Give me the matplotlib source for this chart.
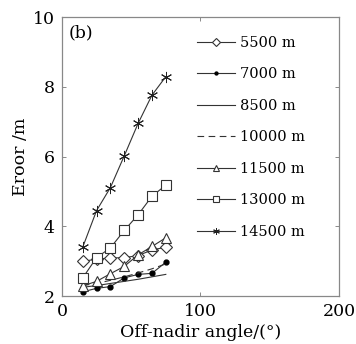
import numpy as np
import matplotlib
matplotlib.use('Agg')
import matplotlib.pyplot as plt

# off-nadir angle (deg) and error (m) for each flight height
angles = [15, 25, 35, 45, 55, 65, 75]
err_5500 = [2.99, 3.06, 3.09, 3.10, 3.16, 3.32, 3.40]
err_7000 = [2.12, 2.22, 2.27, 2.52, 2.62, 2.65, 2.97]
err_8500 = [2.25, 2.30, 2.36, 2.42, 2.48, 2.55, 2.62]
err_10000 = [2.30, 2.36, 2.45, 2.55, 2.66, 2.78, 2.92]
err_11500 = [2.29, 2.42, 2.64, 2.85, 3.18, 3.42, 3.67]
err_13000 = [2.52, 3.10, 3.38, 3.88, 4.33, 4.86, 5.18]
err_14500 = [3.40, 4.45, 5.11, 6.02, 6.95, 7.76, 8.29]
labels = ['5500 m', '7000 m', '8500 m', '10000 m', '11500 m', '13000 m', '14500 m']

plt.rcParams['font.family'] = ['DejaVu Serif']
plt.rcParams['mathtext.fontset'] = 'dejavuserif'

fig = plt.figure(figsize=(3.56, 3.44), dpi=100)
ax = fig.add_axes([0.174, 0.1395, 0.778, 0.811])

lc = '#333333'
lw = 0.8
ax.plot(angles, err_5500, color=lc, lw=lw, marker='D', ms=6.5, mfc='white', mec=lc, mew=0.8, label=labels[0])
ax.plot(angles, err_7000, color=lc, lw=lw, marker='o', ms=3.5, mfc='black', mec='black', label=labels[1])
ax.plot(angles, err_8500, color=lc, lw=lw, label=labels[2])
ax.plot(angles, err_10000, color=lc, lw=lw, ls=(0, (6, 4)), label=labels[3])
ax.plot(angles, err_11500, color=lc, lw=lw, marker='^', ms=7, mfc='white', mec=lc, mew=0.8, label=labels[4])
ax.plot(angles, err_13000, color=lc, lw=lw, marker='s', ms=6.5, mfc='white', mec=lc, mew=0.8, label=labels[5])
ax.plot(angles, err_14500, color=lc, lw=lw, marker=(6, 2, 0), ms=8, mfc='black', mec='#222222', mew=0.7, label=labels[6])

ax.set_xlim(0, 200)
ax.set_ylim(2, 10)
ax.set_xticks([0, 100, 200])
ax.set_yticks([2, 4, 6, 8, 10])
ax.tick_params(direction='in', length=3, width=0.6, color='#777777',
               labelsize=12.5, top=True, right=True, pad=5)
for s in ax.spines.values():
    s.set_color('#888888')
    s.set_linewidth(0.9)

ax.set_xlabel('Off-nadir angle/(°)', fontsize=12.5, labelpad=3)
ax.set_ylabel('Eroor /m', fontsize=12.5, labelpad=3)
ax.text(0.025, 0.975, '(b)', transform=ax.transAxes, fontsize=12.5, va='top', ha='left')

ax.legend(loc='upper left', bbox_to_anchor=(0.553, 0.896), bbox_transform=fig.transFigure,
          frameon=False, fontsize=10.5, handlelength=2.6, handletextpad=0.35,
          labelspacing=1.2, borderpad=0, borderaxespad=0, markerscale=0.6)

fig.savefig('out.png', dpi=100)
